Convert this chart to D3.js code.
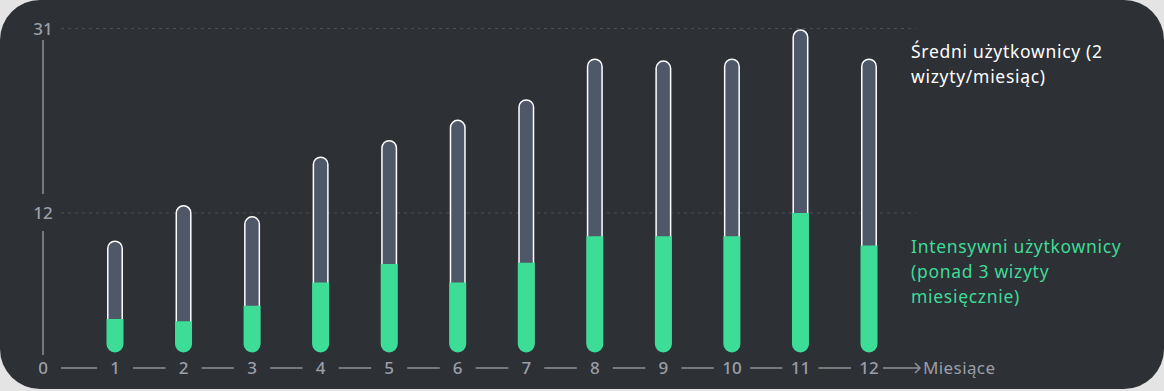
<!DOCTYPE html>
<html>
<head>
<meta charset="utf-8">
<script src="https://cdn.jsdelivr.net/npm/d3@7"></script>
<style>
  html, body { margin: 0; padding: 0; background: #e4e4e4; }
  svg { display: block; }
  text { font-family: "Noto Sans", sans-serif; }
</style>
</head>
<body>
<div id="chart"></div>
<script>
// data
const months = [1, 2, 3, 4, 5, 6, 7, 8, 9, 10, 11, 12];
const regularUsers = [9.7, 12.9, 11.8, 17.9, 19.6, 21.7, 23.8, 28.0, 27.8, 28.0, 31.0, 28.0];
const intensiveUsers = [2.85, 2.65, 4.0, 6.0, 7.6, 6.0, 7.7, 10.0, 10.0, 10.0, 12.0, 9.2];
const yTicks = [12, 31];
const legendRegular = ["Średni użytkownicy (2", "wizyty/miesiąc)"];
const legendIntensive = ["Intensywni użytkownicy", "(ponad 3 wizyty", "miesięcznie)"];
const xTitle = "Miesiące";

const W = 1164, H = 391;
const axisX = 43, axisY = 368;

const svg = d3.select("#chart")
  .append("svg")
  .attr("width", W)
  .attr("height", H);

// card background
svg.append("rect")
  .attr("x", 0).attr("y", 0)
  .attr("width", W).attr("height", 389)
  .attr("rx", 40).attr("ry", 40)
  .attr("fill", "#2d3035");

// scales (the axis is not uniform: 0 -> 12 takes more room than 12 -> 31)
const x = d3.scalePoint()
  .domain(months)
  .range([115, 869]);

const y = d3.scaleLinear()
  .domain([0, 12, 31])
  .range([352, 213, 28.5]);

const barW = 16;
const r = barW / 2;

// gridlines
svg.append("g")
  .selectAll("line")
  .data(yTicks)
  .join("line")
    .attr("x1", 61)
    .attr("x2", 916)
    .attr("y1", d => y(d))
    .attr("y2", d => y(d))
    .attr("stroke", "#4a4e56")
    .attr("stroke-width", 1)
    .attr("stroke-dasharray", "3,4");

// y axis labels
svg.append("g")
  .selectAll("text")
  .data(yTicks)
  .join("text")
    .attr("x", axisX)
    .attr("y", d => y(d))
    .attr("dy", "0.36em")
    .attr("text-anchor", "middle")
    .attr("fill", "#9b9ea8")
    .attr("font-size", 17)
    .attr("font-weight", 500)
    .text(d => d);

// y axis line broken around the labels
const ySegs = [[40, 194], [231, 355]];
svg.append("g")
  .selectAll("line")
  .data(ySegs)
  .join("line")
    .attr("x1", axisX).attr("x2", axisX)
    .attr("y1", d => d[0]).attr("y2", d => d[1])
    .attr("stroke", "#8d909a")
    .attr("stroke-width", 1.5);

// x axis labels, with 0 at the corner
const xLabelPos = [{t: "0", x: axisX}].concat(months.map(m => ({t: String(m), x: x(m)})));
svg.append("g")
  .selectAll("text")
  .data(xLabelPos)
  .join("text")
    .attr("x", d => d.x)
    .attr("y", axisY)
    .attr("dy", "0.36em")
    .attr("text-anchor", "middle")
    .attr("fill", "#9b9ea8")
    .attr("font-size", 17)
    .attr("font-weight", 500)
    .text(d => d.t);

// x axis segments between labels
const xSegs = d3.pairs(xLabelPos).map(p => [p[0].x + 18, p[1].x - 18]);
svg.append("g")
  .selectAll("line")
  .data(xSegs)
  .join("line")
    .attr("x1", d => d[0]).attr("x2", d => d[1])
    .attr("y1", axisY).attr("y2", axisY)
    .attr("stroke", "#8d909a")
    .attr("stroke-width", 1.5);

// arrow after the last month
const arrowStart = x(12) + 14, arrowEnd = arrowStart + 37;
svg.append("path")
  .attr("d", `M${arrowStart},${axisY}H${arrowEnd}M${arrowEnd - 5},${axisY - 5}L${arrowEnd},${axisY}L${arrowEnd - 5},${axisY + 5}`)
  .attr("fill", "none")
  .attr("stroke", "#8d909a")
  .attr("stroke-width", 1.5);

svg.append("text")
  .attr("x", arrowEnd + 3)
  .attr("y", axisY)
  .attr("dy", "0.36em")
  .attr("fill", "#9b9ea8")
  .attr("font-size", 17)
  .attr("letter-spacing", 0.4)
  .text(xTitle);

// bars
const bars = svg.append("g")
  .selectAll("g")
  .data(months.map((m, i) => ({m, total: regularUsers[i], heavy: intensiveUsers[i]})))
  .join("g");

// full pill (regular users)
bars.append("path")
  .attr("d", d => {
    const cx = x(d.m), top = y(d.total) + 0.75, bot = y(0);
    return `M${cx - r + 0.75},${bot - r}V${top + r}A${r - 0.75},${r - 0.75} 0 0 1 ${cx + r - 0.75},${top + r}V${bot - r}Z`;
  })
  .attr("fill", "#4f5869")
  .attr("stroke", "#ffffff")
  .attr("stroke-width", 1.5);

// intensive users: flat top, round bottom
bars.append("path")
  .attr("d", d => {
    const cx = x(d.m), top = y(d.heavy), bot = y(0);
    return `M${cx - r - 0.5},${top}H${cx + r + 0.5}V${bot - r}A${r + 0.5},${r + 0.5} 0 0 1 ${cx - r - 0.5},${bot - r}Z`;
  })
  .attr("fill", "#3ddc97");

// legend texts
svg.append("text")
  .attr("fill", "#ffffff")
  .attr("font-size", 17.5)
  .attr("letter-spacing", 0.7)
  .selectAll("tspan")
  .data(legendRegular)
  .join("tspan")
    .attr("x", 911)
    .attr("y", (d, i) => 58 + i * 25)
    .text(d => d);

svg.append("text")
  .attr("fill", "#3ddc97")
  .attr("font-size", 17.5)
  .attr("letter-spacing", 0.7)
  .selectAll("tspan")
  .data(legendIntensive)
  .join("tspan")
    .attr("x", 911)
    .attr("y", (d, i) => 253 + i * 25)
    .text(d => d);
</script>
</body>
</html>
